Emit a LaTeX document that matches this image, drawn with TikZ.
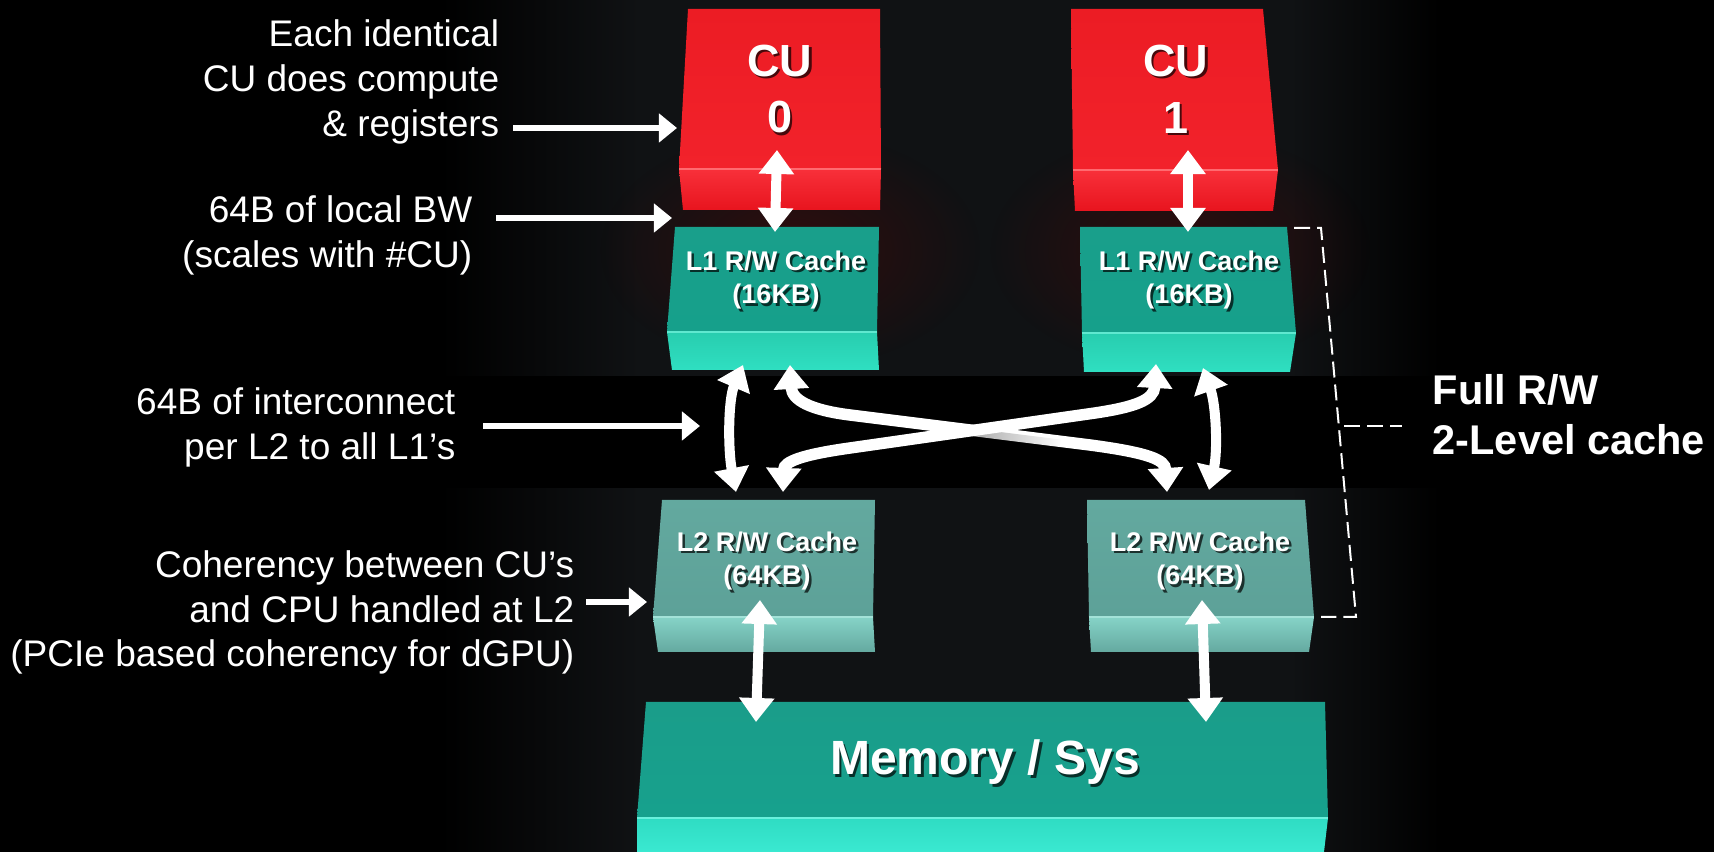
\documentclass[tikz,border=0pt]{standalone}
\usepackage{fontspec}
\setmainfont{Liberation Sans}
\usetikzlibrary{arrows.meta,calc,fadings}

\definecolor{bggray}{HTML}{101214}
\definecolor{cufront}{HTML}{EC1C24}
\definecolor{cufrontlow}{HTML}{F2222B}
\definecolor{custriptop}{HTML}{F8303A}
\definecolor{custriplow}{HTML}{E8141E}
\definecolor{cuedge}{HTML}{FF6A70}
\definecolor{lonefront}{HTML}{199F8B}
\definecolor{lonefrontlow}{HTML}{16A08B}
\definecolor{lonestriptop}{HTML}{28CDAF}
\definecolor{lonestriplow}{HTML}{2FDFC1}
\definecolor{loneedge}{HTML}{5FE8D0}
\definecolor{ltwofront}{HTML}{63A99F}
\definecolor{ltwofrontlow}{HTML}{5DA198}
\definecolor{ltwostriptop}{HTML}{86D3C7}
\definecolor{ltwostriplow}{HTML}{64A9A0}
\definecolor{ltwoedge}{HTML}{A3E2D8}
\definecolor{memfront}{HTML}{1A9D8A}
\definecolor{memfrontlow}{HTML}{17A18D}
\definecolor{memstriptop}{HTML}{2FDCC3}
\definecolor{memstriplow}{HTML}{3AE9D1}
\definecolor{memedge}{HTML}{6AF0DC}
\definecolor{redglow}{HTML}{4A0808}

\tikzfading[name=softglow, inner color=transparent!45, outer color=transparent!100]
\tikzfading[name=fadeeast, left color=transparent!30, right color=transparent!100]

% white text with a dark drop shadow: name, position, style, text
\newcommand{\shadowed}[4]{%
  \node[#3, text=black, opacity=0.7] (#1-sh) at ($(#2)+(2.5,2.5)$) {#4};
  \node[#3, text=white] (#1) at (#2) {#4};
}

\begin{document}
\begin{tikzpicture}[x=0.01cm,y=-0.01cm,
  bigarrow/.style={draw=white, line width=1mm,
    {Triangle[width=3.4mm,length=2.4mm]}-{Triangle[width=3.4mm,length=2.4mm]}},
  crossarrow/.style={draw=white, line width=1.15mm,
    {Triangle[width=3.4mm,length=2.4mm]}-{Triangle[width=3.4mm,length=2.4mm]}},
  ptrarrow/.style={draw=white, line width=0.6mm, -{Triangle[width=2.8mm,length=1.8mm]}},
  bracketline/.style={draw=white, line width=0.2mm, dash pattern=on 1.6mm off 0.7mm},
  note/.style={text=white, inner sep=0pt, anchor=base east,
    font=\fontsize{10.53}{12.8}\selectfont},
  bignote/.style={text=white, inner sep=0pt, anchor=base west,
    font=\fontsize{11.8}{14.2}\selectfont\bfseries},
  cutext/.style={align=center, inner sep=0pt,
    font=\fontsize{12.8}{16.2}\selectfont\bfseries},
  cachetext/.style={align=center, inner sep=0pt,
    font=\fontsize{7.68}{9.4}\selectfont\bfseries},
  memtext/.style={inner sep=0pt, anchor=base,
    font=\fontsize{13.66}{16}\selectfont\bfseries},
]
\useasboundingbox (0,0) rectangle (1714,852);

% ---- background ----
\fill[black] (0,0) rectangle (1714,852);
\shade[left color=black, right color=bggray] (440,0) rectangle (640,852);
\fill[bggray] (640,0) rectangle (1290,852);
\shade[left color=bggray, right color=black] (1290,0) rectangle (1440,852);
\fill[black] (0,376) rectangle (1714,488);

% faint red glow below the compute units
\fill[redglow, path fading=softglow] (790,250) ellipse [x radius=190, y radius=120];
\fill[redglow, path fading=softglow] (1180,250) ellipse [x radius=190, y radius=120];

% ---- compute units ----
\shade[top color=cufront, bottom color=cufrontlow]
  (688,9) -- (880,9) -- (881,169) -- (679,169) -- cycle;
\shade[top color=custriptop, bottom color=custriplow]
  (679,169) -- (881,169) -- (880,210) -- (683,210) -- cycle;
\draw[cuedge, line width=0.15mm] (679,169) -- (881,169);

\shade[top color=cufront, bottom color=cufrontlow]
  (1071,9) -- (1263,9) -- (1278,170) -- (1073,170) -- cycle;
\shade[top color=custriptop, bottom color=custriplow]
  (1073,170) -- (1278,170) -- (1273,211) -- (1075,211) -- cycle;
\draw[cuedge, line width=0.15mm] (1073,170) -- (1278,170);

\shadowed{cu0}{780,89}{cutext}{CU\\0}
\shadowed{cu1}{1176,89}{cutext}{CU\\1}

% ---- L1 caches ----
\shade[top color=lonefront, bottom color=lonefrontlow]
  (675,227) -- (879,227) -- (877,332) -- (667,332) -- cycle;
\shade[top color=lonestriptop, bottom color=lonestriplow]
  (667,332) -- (877,332) -- (879,370) -- (672,370) -- cycle;
\draw[loneedge, line width=0.15mm] (667,332) -- (877,332);

\shade[top color=lonefront, bottom color=lonefrontlow]
  (1080,227) -- (1287,227) -- (1296,333) -- (1082,333) -- cycle;
\shade[top color=lonestriptop, bottom color=lonestriplow]
  (1082,333) -- (1296,333) -- (1290,372) -- (1084,372) -- cycle;
\draw[loneedge, line width=0.15mm] (1082,333) -- (1296,333);

\shadowed{l1a}{776,280}{cachetext}{L1 R/W Cache\\(16KB)}
\shadowed{l1b}{1189,280}{cachetext}{L1 R/W Cache\\(16KB)}

% ---- L2 caches ----
\shade[top color=ltwofront, bottom color=ltwofrontlow]
  (662,500) -- (875,500) -- (873,617) -- (653,617) -- cycle;
\shade[top color=ltwostriptop, bottom color=ltwostriplow]
  (653,617) -- (873,617) -- (875,652) -- (658,652) -- cycle;
\draw[ltwoedge, line width=0.15mm] (653,617) -- (873,617);

\shade[top color=ltwofront, bottom color=ltwofrontlow]
  (1087,500) -- (1305,500) -- (1314,617) -- (1089,617) -- cycle;
\shade[top color=ltwostriptop, bottom color=ltwostriplow]
  (1089,617) -- (1314,617) -- (1309,652) -- (1091,652) -- cycle;
\draw[ltwoedge, line width=0.15mm] (1089,617) -- (1314,617);

\shadowed{l2a}{767,561}{cachetext}{L2 R/W Cache\\(64KB)}
\shadowed{l2b}{1200,561}{cachetext}{L2 R/W Cache\\(64KB)}

% ---- memory / system ----
\shade[top color=memfront, bottom color=memfrontlow]
  (646,702) -- (1325,702) -- (1328,818) -- (637,818) -- cycle;
\shade[top color=memstriptop, bottom color=memstriplow]
  (637,818) -- (1328,818) -- (1324,852) -- (637,852) -- cycle;
\draw[memedge, line width=0.15mm] (637,818) -- (1328,818);

\shadowed{mem}{985,775}{memtext}{Memory / Sys}

% ---- connector end points ----
\coordinate (cu0-out) at (777,150);
\coordinate (l1a-in)  at (775,232);
\coordinate (cu1-out) at (1188,150);
\coordinate (l1b-in)  at (1188,232);
\coordinate (l1a-l) at (743,365);
\coordinate (l1a-r) at (790,365);
\coordinate (l1b-l) at (1156,364);
\coordinate (l1b-r) at (1203,368);
\coordinate (l2a-l) at (736,492);
\coordinate (l2a-r) at (783,492);
\coordinate (l2b-l) at (1167,492);
\coordinate (l2b-r) at (1209,490);
\coordinate (l2a-out) at (760,600);
\coordinate (mem-a)   at (756,722);
\coordinate (l2b-out) at (1202,600);
\coordinate (mem-b)   at (1206,722);

% ---- CU <-> L1 ----
\draw[bigarrow] (cu0-out) -- (l1a-in);
\draw[bigarrow] (cu1-out) -- (l1b-in);

% ---- L1 <-> L2 interconnect ----
\draw[bigarrow] (l1a-l) .. controls (728,400) and (728,450) .. (l2a-l);
\draw[bigarrow] (l1b-r) .. controls (1216,405) and (1218,450) .. (l2b-r);
\draw[crossarrow] (l1a-r) .. controls (792,400) and (810,410) .. (850,415)
  -- (1090,445) .. controls (1150,453) and (1165,460) .. (l2b-l);
% shade cast by the upper crossing arrow
\draw[black, line width=0.9mm, path fading=fadeeast, opacity=0.5]
  (972,433) -- (1060,444);
\draw[crossarrow] (l1b-l) .. controls (1154,400) and (1135,407) .. (1095,413)
  -- (850,448) .. controls (800,455) and (784,462) .. (l2a-r);

% ---- L2 <-> memory ----
\draw[bigarrow] (l2a-out) -- (mem-a);
\draw[bigarrow] (l2b-out) -- (mem-b);

% ---- notes on the left ----
\node[note] (n1a) at (500,47)  {Each identical};
\node[note] (n1b) at (500,92)  {CU does compute};
\node[note] (n1c) at (500,137) {\& registers};
\node[note] (n2a) at (473,223) {64B of local BW};
\node[note] (n2b) at (473,268) {(scales with \#CU)};
\node[note] (n3a) at (456,415) {64B of interconnect};
\node[note] (n3b) at (456,460) {per L2 to all L1’s};
\node[note] (n4a) at (575,578) {Coherency between CU’s};
\node[note] (n4b) at (575,623) {and CPU handled at L2};
\node[note] (n4c) at (575,667) {(PCIe based coherency for dGPU)};

\coordinate (p1s) at (513,128);  \coordinate (p1e) at (677,128);
\coordinate (p2s) at (496,218);  \coordinate (p2e) at (672,218);
\coordinate (p3s) at (483,426);  \coordinate (p3e) at (700,426);
\coordinate (p4s) at (586,602);  \coordinate (p4e) at (647,602);
\draw[ptrarrow] (p1s) -- (p1e);
\draw[ptrarrow] (p2s) -- (p2e);
\draw[ptrarrow] (p3s) -- (p3e);
\draw[ptrarrow] (p4s) -- (p4e);

% ---- two-level cache bracket ----
\coordinate (bt0) at (1294,228);
\coordinate (bt1) at (1321,228);
\coordinate (bb1) at (1356,617);
\coordinate (bb0) at (1321,617);
\coordinate (bm0) at (1344,426);
\coordinate (bm1) at (1402,426);
\draw[bracketline] (bt0) -- (bt1) -- (bb1) -- (bb0);
\draw[bracketline] (bm0) -- (bm1);

\node[bignote] (f1) at (1432,405) {Full R/W};
\node[bignote] (f2) at (1432,455) {2-Level cache};
\end{tikzpicture}
\end{document}
